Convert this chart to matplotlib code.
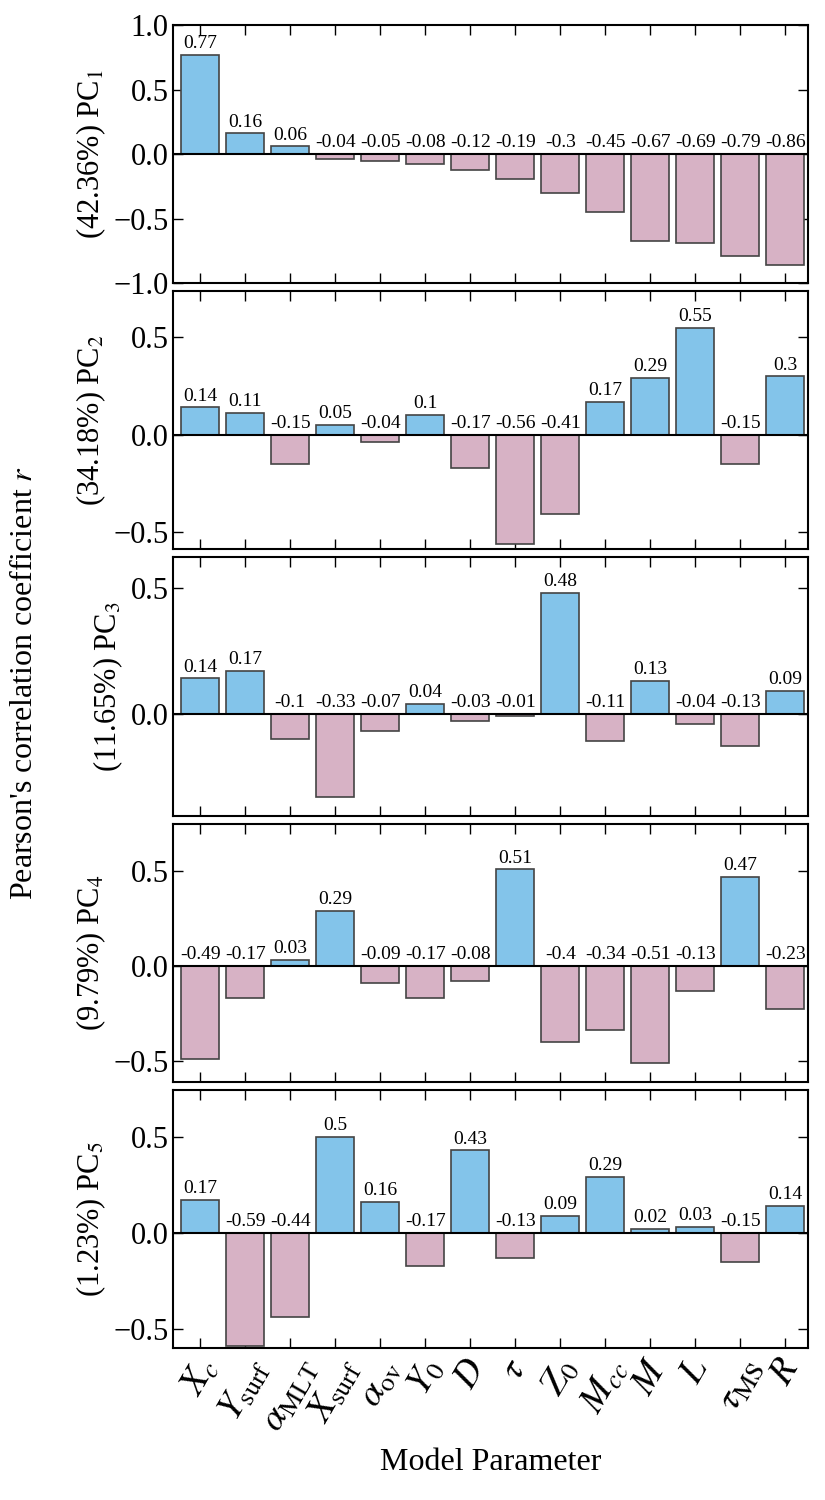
import numpy as np
import matplotlib
matplotlib.use("Agg")
import matplotlib.pyplot as plt

plt.rcParams['font.family'] = ['Liberation Serif', 'DejaVu Serif']
plt.rcParams['mathtext.fontset'] = 'stix'

params = [r'$X_c$', r'$Y_{\rm surf}$', r'$\alpha_{\rm MLT}$', r'$X_{\rm surf}$',
          r'$\alpha_{\rm ov}$', r'$Y_0$', r'$D$', r'$\tau$', r'$Z_0$',
          r'$M_{cc}$', r'$M$', r'$L$', r'$\tau_{\rm MS}$', r'$R$']

pc1 = [0.77, 0.16, 0.06, -0.04, -0.05, -0.08, -0.12, -0.19, -0.3, -0.45, -0.67, -0.69, -0.79, -0.86]
pc2 = [0.14, 0.11, -0.15, 0.05, -0.04, 0.1, -0.17, -0.56, -0.41, 0.17, 0.29, 0.55, -0.15, 0.3]
pc3 = [0.14, 0.17, -0.1, -0.33, -0.07, 0.04, -0.03, -0.01, 0.48, -0.11, 0.13, -0.04, -0.13, 0.09]
pc4 = [-0.49, -0.17, 0.03, 0.29, -0.09, -0.17, -0.08, 0.51, -0.4, -0.34, -0.51, -0.13, 0.47, -0.23]
pc5 = [0.17, -0.59, -0.44, 0.5, 0.16, -0.17, 0.43, -0.13, 0.09, 0.29, 0.02, 0.03, -0.15, 0.14]

pcs = [pc1, pc2, pc3, pc4, pc5]
ylabels = [r'(42.36%) PC$_1$', r'(34.18%) PC$_2$', r'(11.65%) PC$_3$',
           r'(9.79%) PC$_4$', r'(1.23%) PC$_5$']
ylims = [(-1.0, 1.0), (-0.59, 0.737), (-0.406, 0.621), (-0.612, 0.751), (-0.60, 0.745)]
yticks = [[-1.0, -0.5, 0.0, 0.5, 1.0], [-0.5, 0.0, 0.5], [0.0, 0.5],
          [-0.5, 0.0, 0.5], [-0.5, 0.0, 0.5]]

blue = '#83c4ea'
pink = '#d7b2c5'

fig, axes = plt.subplots(5, 1, figsize=(8.25, 15), dpi=100, sharex=True)
fig.subplots_adjust(left=0.21, right=0.979, top=0.9833, bottom=0.1013, hspace=0.031)

x = np.arange(len(params))
for ax, vals, lab, yl, yt in zip(axes, pcs, ylabels, ylims, yticks):
    vals = np.array(vals)
    cols = [blue if v > 0 else pink for v in vals]
    ax.bar(x, vals, width=0.84, color=cols, edgecolor='#444444', linewidth=1.2, zorder=2)
    ax.axhline(0, color='black', lw=1.5, zorder=3)
    for xi, v in zip(x, vals):
        ax.annotate(str(v), (xi, max(v, 0)), xytext=(0, 2), textcoords='offset points',
                    ha='center', va='bottom', fontsize=14)
    ax.set_ylim(*yl)
    ax.set_yticks(yt)
    ax.set_xlim(-0.6, 13.5)
    ax.set_ylabel(lab, fontsize=22)
    ax.tick_params(direction='in', top=True, right=True, labelsize=22, length=7, width=1)
    for s in ax.spines.values():
        s.set_linewidth(1.5)

axes[-1].set_xticks(x)
axes[-1].set_xticklabels(params, rotation=60, fontsize=27)
axes[-1].set_xlabel('Model Parameter', fontsize=23, labelpad=8)

fig.text(0.03, 0.545, r"Pearson's correlation coefficient $r$", rotation=90,
         ha='center', va='center', fontsize=23)

fig.savefig('out.png', dpi=100)
